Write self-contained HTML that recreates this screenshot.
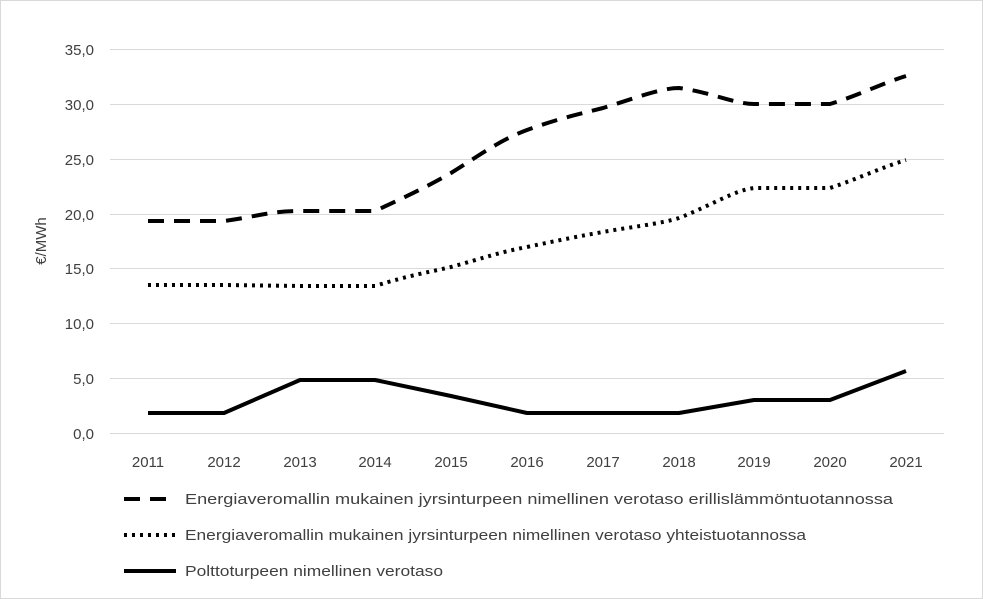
<!DOCTYPE html>
<html><head><meta charset="utf-8"><style>
body{margin:0;background:#fff}
svg{display:block;font-family:"Liberation Sans",sans-serif}
</style></head><body>
<svg width="983" height="599" viewBox="0 0 983 599">
<rect x="0.5" y="0.5" width="982" height="598" fill="#fff" stroke="#d9d9d9"/>
<g stroke="#d9d9d9" stroke-width="1">
<line x1="110" x2="944" y1="49.5" y2="49.5"/>
<line x1="110" x2="944" y1="104.5" y2="104.5"/>
<line x1="110" x2="944" y1="159.5" y2="159.5"/>
<line x1="110" x2="944" y1="214.5" y2="214.5"/>
<line x1="110" x2="944" y1="268.5" y2="268.5"/>
<line x1="110" x2="944" y1="323.5" y2="323.5"/>
<line x1="110" x2="944" y1="378.5" y2="378.5"/>
<line x1="110" x2="944" y1="433.5" y2="433.5"/>
</g>
<g font-size="15" fill="#404040" text-anchor="end">
<text x="94" y="55">35,0</text><text x="94" y="110">30,0</text><text x="94" y="165">25,0</text>
<text x="94" y="220">20,0</text><text x="94" y="274">15,0</text><text x="94" y="329">10,0</text>
<text x="94" y="384">5,0</text><text x="94" y="439">0,0</text>
</g>
<g font-size="15" fill="#404040" text-anchor="middle">
<text x="148" y="467">2011</text><text x="224" y="467">2012</text><text x="300" y="467">2013</text>
<text x="375" y="467">2014</text><text x="451" y="467">2015</text><text x="527" y="467">2016</text>
<text x="603" y="467">2017</text><text x="679" y="467">2018</text><text x="754" y="467">2019</text>
<text x="830" y="467">2020</text><text x="906" y="467">2021</text>
</g>
<text transform="translate(46,241) rotate(-90)" font-size="15" fill="#404040" text-anchor="middle">€/MWh</text>
<g fill="none" stroke="#000" stroke-width="4" stroke-linejoin="round">
<path stroke-dasharray="16,10" d="M148,221 L224,221 C260,216 270,211 300,211 L375,211 C410,195 430,185 451,173 C480,155 500,140 527,130 C560,118 580,114 603,108 C630,100 660,88 679,88 C710,92 735,104 754,104 L830,104 C860,95 880,84 906,76"/>
<path stroke-dasharray="3,5" d="M148,285 L224,285 L300,286 L375,286 C410,275 430,272 451,267 C480,259 500,252 527,247 C560,240 580,236 603,232 C630,227 660,224 679,218 C710,206 735,190 754,188 L830,188 C860,178 880,168 906,160"/>
<polyline points="148,413 224,413 300,380 375,380 451,396 527,413 603,413 679,413 754,400 830,400 906,371"/>
<line x1="124" x2="176" y1="499" y2="499" stroke-dasharray="16,10"/>
<line x1="124" x2="176" y1="535" y2="535" stroke-dasharray="3,5"/>
<line x1="124" x2="176" y1="571" y2="571"/>
</g>
<g font-size="15" fill="#404040">
<text x="185" y="504" textLength="708" lengthAdjust="spacingAndGlyphs">Energiaveromallin mukainen jyrsinturpeen nimellinen verotaso erillislämmöntuotannossa</text>
<text x="185" y="540" textLength="621" lengthAdjust="spacingAndGlyphs">Energiaveromallin mukainen jyrsinturpeen nimellinen verotaso yhteistuotannossa</text>
<text x="185" y="576" textLength="258" lengthAdjust="spacingAndGlyphs">Polttoturpeen nimellinen verotaso</text>
</g>
</svg>
</body></html>
